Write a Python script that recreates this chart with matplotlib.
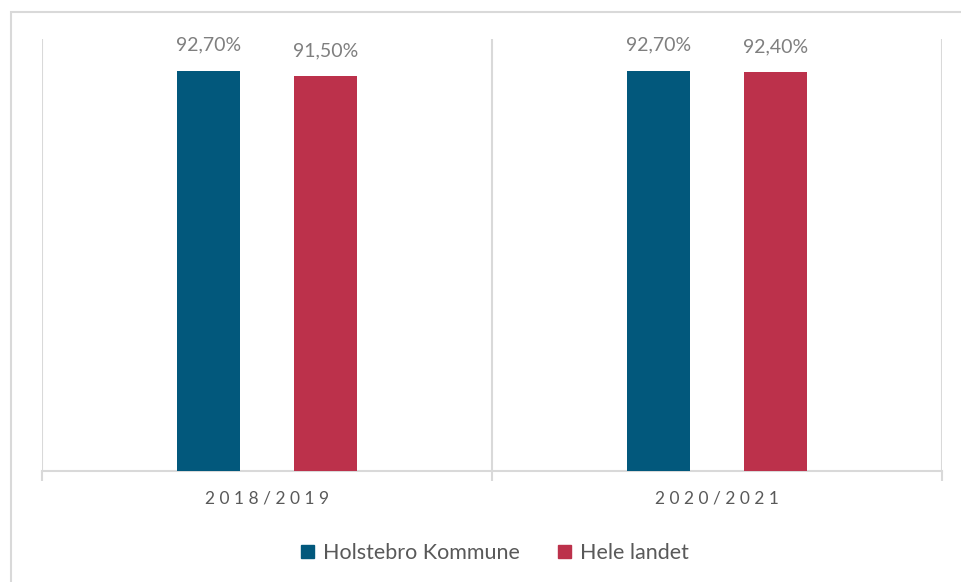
import matplotlib.pyplot as plt
import numpy as np
from matplotlib.patches import Rectangle

plt.rcParams['font.family'] = ['Lato', 'DejaVu Sans']

years = ['2018/2019', '2020/2021']
holstebro = [92.7, 92.7]
hele_landet = [91.5, 92.4]
series_names = ['Holstebro Kommune', 'Hele landet']
colors = ['#02587C', '#BC314B']

W, H = 962, 582
fig = plt.figure(figsize=(W / 100, H / 100), dpi=100)

# light grey chart border (cut off at right/bottom like the source)
fig.patches.append(Rectangle((11 / W, -0.2), 1.2, (H - 12) / H + 0.2, transform=fig.transFigure,
                             fill=False, edgecolor='#D9D9D9', linewidth=1.5))

ax = fig.add_axes([42 / W, (H - 471) / H, 900 / W, 432 / H])
x = np.arange(len(years))
bw = 0.138
off = 0.13

for vals, dx, c in [(holstebro, -off, colors[0]), (hele_landet, off, colors[1])]:
    bars = ax.bar(x + dx, vals, width=bw, color=c, zorder=3)
    for b, v in zip(bars, vals):
        ax.annotate(f'{v:.2f}%'.replace('.', ','), (b.get_x() + b.get_width() / 2, v),
                    xytext=(0, 12), textcoords='offset points', ha='center', va='bottom',
                    fontsize=14, color='#7F7F7F')

ax.set_xlim(-0.5, len(years) - 0.5)
ax.set_ylim(0, 100)
for s in ['top', 'right', 'left']:
    ax.spines[s].set_visible(False)
ax.spines['bottom'].set_color('#D9D9D9')
ax.spines['bottom'].set_linewidth(1.5)
ax.set_yticks([])

bounds = np.arange(len(years) + 1) - 0.5
for b in bounds:
    ax.axvline(b, color='#D9D9D9', linewidth=1.5, zorder=1)
ax.set_xticks(bounds)
ax.set_xticklabels([])
ax.tick_params(axis='x', length=7, width=1.5, color='#D9D9D9', direction='out')

# letter-spaced category labels
for i, yr in enumerate(years):
    ax.text(i, -4.5, ' '.join(list(yr)), ha='center', va='top',
            fontsize=12.5, color='#595959')

handles = [Rectangle((0, 0), 1, 1, color=c) for c in colors]
fig.legend(handles, series_names, loc='center', bbox_to_anchor=(495 / W, (H - 553) / H),
           ncol=2, frameon=False, fontsize=15.5, labelcolor='#595959',
           handlelength=0.6, handleheight=0.6, handletextpad=0.4, columnspacing=1.8)

fig.savefig('out.png', dpi=100)
